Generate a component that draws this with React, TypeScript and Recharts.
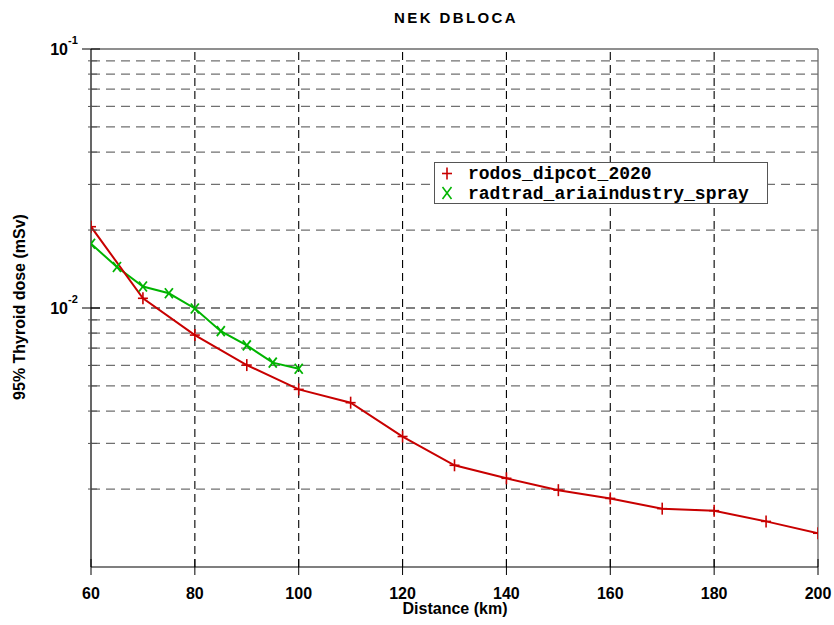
import React from 'react';
import {
  LineChart,
  Line,
  XAxis,
  YAxis,
  ReferenceLine,
  Label,
} from 'recharts';

const redX = [60, 70, 80, 90, 100, 110, 120, 130, 140, 150, 160, 170, 180, 190, 200];
const redY = [0.0206, 0.0109, 0.00786, 0.00602, 0.00485, 0.00431, 0.00319, 0.00247, 0.0022, 0.00198, 0.00184, 0.00168, 0.00165, 0.0015, 0.00135];

const greenX = [60, 65, 70, 75, 80, 85, 90, 95, 100];
const greenY = [0.0177, 0.0144, 0.0121, 0.0114, 0.00996, 0.00814, 0.00717, 0.00615, 0.00583];

const xTicks = [60, 80, 100, 120, 140, 160, 180, 200];
const xGrid = [80, 100, 120, 140, 160, 180];
const yMajor = [0.01, 0.1];
const yMinor = [
  0.002, 0.003, 0.004, 0.005, 0.006, 0.007, 0.008, 0.009,
  0.02, 0.03, 0.04, 0.05, 0.06, 0.07, 0.08, 0.09,
];
const yTicks = [0.001, ...yMinor.slice(0, 8), 0.01, ...yMinor.slice(8), 0.1];

const seriesNames = ['rodos_dipcot_2020', 'radtrad_ariaindustry_spray'];

const RED = '#c80000';
const GREEN = '#00b400';
const FONT = '"Liberation Sans", Arial, sans-serif';
const MONO = '"Liberation Mono", "Courier New", monospace';

const redData = redX.map((x, i) => ({ x, y: redY[i] }));
const greenData = greenX.map((x, i) => ({ x, y: greenY[i] }));

const PlusDot = (props: any) => {
  const { cx, cy } = props;
  if (cx == null || cy == null) return null;
  return (
    <g stroke={RED} strokeWidth={1.6}>
      <line x1={cx - 5} y1={cy} x2={cx + 5} y2={cy} />
      <line x1={cx} y1={cy - 6} x2={cx} y2={cy + 6} />
    </g>
  );
};

const CrossDot = (props: any) => {
  const { cx, cy } = props;
  if (cx == null || cy == null) return null;
  return (
    <g stroke={GREEN} strokeWidth={1.8}>
      <line x1={cx - 4} y1={cy - 5} x2={cx + 4} y2={cy + 5} />
      <line x1={cx - 4} y1={cy + 5} x2={cx + 4} y2={cy - 5} />
    </g>
  );
};

const YTick = (props: any) => {
  const { x, y, payload } = props;
  const v = payload.value;
  const major = yMajor.some((m) => Math.abs(m - v) < 1e-9);
  if (Math.abs(v - 0.001) < 1e-9) return null;
  if (!major) {
    return <line x1={x - 3} y1={y} x2={x + 6} y2={y} stroke="#555" strokeWidth={1} />;
  }
  const exp = Math.round(Math.log10(v));
  return (
    <g>
      <line x1={x - 9} y1={y} x2={x + 9} y2={y} stroke="#000" strokeWidth={1} />
      <text x={x - 23} y={y + 6} textAnchor="end" fontFamily={FONT} fontWeight="bold" fontSize={16} fill="#000">
        10
      </text>
      <text x={x - 23} y={y - 5} textAnchor="start" fontFamily={FONT} fontWeight="bold" fontSize={11} fill="#000">
        {exp}
      </text>
    </g>
  );
};

const XTick = (props: any) => {
  const { x, y, payload } = props;
  return (
    <g>
      <line x1={x} y1={y - 8} x2={x} y2={y + 8} stroke="#000" strokeWidth={1} />
      <text x={x} y={y + 32} textAnchor="middle" fontFamily={FONT} fontWeight="bold" fontSize={16} fill="#000">
        {payload.value}
      </text>
    </g>
  );
};

const LegendBox = () => (
  <div
    style={{
      position: 'absolute',
      left: 434,
      top: 162,
      width: 332,
      height: 40,
      border: '1px solid #555',
      background: '#fff',
    }}
  >
    <svg width={332} height={40} style={{ position: 'absolute', left: 0, top: 0 }}>
      <g stroke={RED} strokeWidth={1.6}>
        <line x1={7} y1={10.5} x2={17} y2={10.5} />
        <line x1={12} y1={4.5} x2={12} y2={16.5} />
      </g>
      <g stroke={GREEN} strokeWidth={1.6}>
        <line x1={7.5} y1={24} x2={16.5} y2={36} />
        <line x1={7.5} y1={36} x2={16.5} y2={24} />
      </g>
      <text x={33} y={16} fontFamily={MONO} fontWeight="bold" fontSize={18} fill="#000">
        {seriesNames[0]}
      </text>
      <text x={33} y={35.5} fontFamily={MONO} fontWeight="bold" fontSize={18} fill="#000">
        {seriesNames[1]}
      </text>
    </svg>
  </div>
);

export default function App() {
  return (
    <div style={{ position: 'absolute', left: 0, top: 0, width: 834, height: 625, background: '#fff' }}>
      <LineChart width={834} height={625} margin={{ top: 49, right: 16, bottom: 0, left: 0 }}>
        <XAxis
          dataKey="x"
          type="number"
          domain={[60, 200]}
          ticks={xTicks}
          allowDataOverflow
          height={58}
          tickSize={0}
          tickMargin={0}
          tick={<XTick />}
          axisLine={{ stroke: '#000', strokeWidth: 1.2 }}
          tickLine={false}
          allowDuplicatedCategory={false}
        >
          <Label
            content={() => (
              <text x={455} y={614} textAnchor="middle" fontFamily={FONT} fontWeight="bold" fontSize={16} fill="#000">
                Distance (km)
              </text>
            )}
          />
        </XAxis>
        <YAxis
          dataKey="y"
          type="number"
          scale="log"
          domain={[0.001, 0.1]}
          ticks={yTicks}
          allowDataOverflow
          width={91}
          tickSize={0}
          tickMargin={0}
          tick={<YTick />}
          interval={0}
          axisLine={{ stroke: '#000', strokeWidth: 1.2 }}
          tickLine={false}
        >
          <Label
            content={() => (
              <text
                x={25}
                y={307}
                textAnchor="middle"
                transform="rotate(-90 25 307)"
                fontFamily={FONT}
                fontWeight="bold"
                fontSize={16}
                fill="#000"
              >
                95% Thyroid dose (mSv)
              </text>
            )}
          />
        </YAxis>
        {yMinor.map((v) => (
          <ReferenceLine key={'m' + v} y={v} stroke="#707070" strokeWidth={1.3} strokeDasharray="9 6" />
        ))}
        <ReferenceLine y={0.01} stroke="#000" strokeWidth={1.1} strokeDasharray="9 6" />
        {xGrid.map((v) => (
          <ReferenceLine key={'x' + v} x={v} stroke="#000" strokeWidth={1.1} strokeDasharray="8 5" />
        ))}
        <ReferenceLine y={0.1} stroke="#6a6a6a" strokeWidth={1.3} />
        <ReferenceLine x={200} stroke="#6a6a6a" strokeWidth={1.3} />
        <Line
          data={greenData}
          dataKey="y"
          name={seriesNames[1]}
          stroke={GREEN}
          strokeWidth={2}
          dot={<CrossDot />}
          activeDot={false}
          isAnimationActive={false}
          type="linear"
        />
        <Line
          data={redData}
          dataKey="y"
          name={seriesNames[0]}
          stroke={RED}
          strokeWidth={2}
          dot={<PlusDot />}
          activeDot={false}
          isAnimationActive={false}
          type="linear"
        />
      </LineChart>
      <div
        style={{
          position: 'absolute',
          left: 0,
          top: 9,
          width: 912,
          textAlign: 'center',
          fontFamily: FONT,
          fontWeight: 'bold',
          fontSize: 15,
          letterSpacing: 2.4,
          lineHeight: '17px',
        }}
      >
        NEK DBLOCA
      </div>
      <LegendBox />
    </div>
  );
}
